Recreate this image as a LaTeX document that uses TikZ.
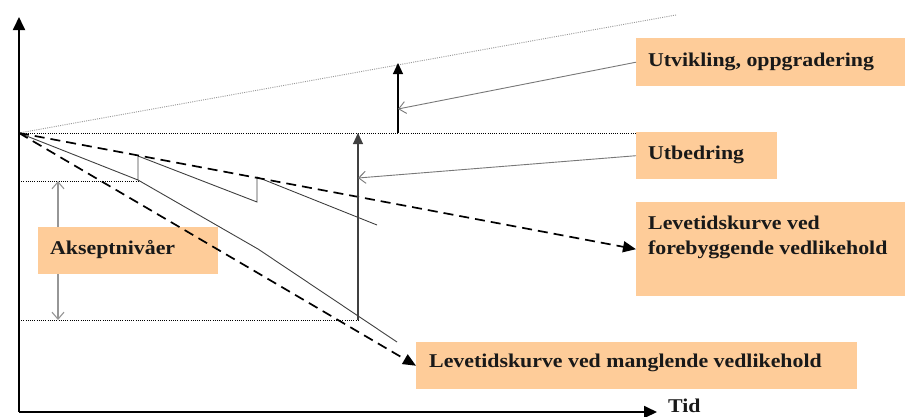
\documentclass[tikz,border=0pt]{standalone}
\usepackage{fontspec}
\setmainfont{Liberation Serif}[FakeStretch=1.12]
\usetikzlibrary{arrows.meta}
\definecolor{peach}{RGB}{254,204,153}
\definecolor{curvegray}{RGB}{64,64,64}
\definecolor{leadgray}{RGB}{120,120,120}
\definecolor{lightgray}{RGB}{150,150,150}
\begin{document}
\begin{tikzpicture}[x=1pt,y=-1pt,
  axis/.style={line width=1.8pt,-{Triangle[length=13pt,width=12pt]}},
  guide/.style={black,line width=0.7pt,dash pattern=on 0.8pt off 1.4pt},
  trend/.style={lightgray,line width=0.9pt,dash pattern=on 1pt off 1.2pt},
  lifeline/.style={black,line width=1.7pt,dash pattern=on 10pt off 6pt,-{Triangle[length=13pt,width=11pt]}},
  wear/.style={curvegray,line width=0.9pt},
  lift/.style={line width=1.1pt,-{Triangle[length=11pt,width=10pt]}},
  leader/.style={leadgray,line width=0.9pt,-{Straight Barb[length=7pt,width=12pt]}},
  accrange/.style={lightgray,line width=1.1pt,{Straight Barb[length=7pt,width=12pt]}-{Straight Barb[length=7pt,width=12pt]}},
  infobox/.style={fill=peach,draw=none,inner sep=0pt,anchor=north west},
  boxtext/.style={font=\bfseries\fontsize{19.5}{25}\selectfont,inner sep=0pt,align=left,text=black!90}
]
\useasboundingbox (0,0) rectangle (905,416);

% key points of the chart
\coordinate (O) at (19,133);
\coordinate (corner) at (19,412);
\coordinate (ytop) at (19,17);
\coordinate (xend) at (657,412);
\coordinate (trendEnd) at (676,15);
\coordinate (topLevel) at (636,133);
\coordinate (accHi) at (138,181);
\coordinate (accHiL) at (19,181);
\coordinate (accLo) at (358,320);
\coordinate (accLoL) at (19,320);
\coordinate (upA) at (398,133);
\coordinate (upAtip) at (398,63);
\coordinate (upAhit) at (398,109);
\coordinate (upBtip) at (358,133);
\coordinate (upBhit) at (358,178);
\coordinate (s1) at (138,180);
\coordinate (s1t) at (138,156);
\coordinate (s2) at (257,202);
\coordinate (s2t) at (257,177);
\coordinate (s3) at (377,225);
\coordinate (d1) at (258,249);
\coordinate (d2) at (397,342);
\coordinate (rTop) at (58,181);
\coordinate (rBot) at (58,320);

% reference levels
\draw[trend] (O) -- (trendEnd);
\draw[guide] (O) -- (topLevel);
\draw[guide] (accHiL) -- (accHi);
\draw[guide] (accLoL) -- (accLo);

% acceptance range
\draw[accrange] (rTop) -- (rBot);

% actual condition with and without repairs
\draw[wear] (O) -- (s1) -- (s1t) -- (s2) -- (s2t) -- (s3);
\draw[wear] (s1) -- (d1) -- (d2);

% boxes
\node[infobox,minimum width=269pt,minimum height=48pt] (utv) at (636,38) {};
\node[infobox,minimum width=141pt,minimum height=47pt] (utb) at (636,132) {};
\node[infobox,minimum width=269pt,minimum height=94pt] (fore) at (636,202) {};
\node[infobox,minimum width=180pt,minimum height=47pt] (aks) at (38,227) {};
\node[infobox,minimum width=441pt,minimum height=47pt] (mang) at (416,342) {};

% life-time curves
\draw[lifeline] (O) -- (fore.west);
\draw[lifeline] (O) -- (mang.west);

% upgrades and repair
\draw[lift,black] (upA) -- (upAtip);
\draw[lift,curvegray] (accLo) -- (upBtip);

% leaders from the labels
\draw[leader] (utv.west) -- (upAhit);
\draw[leader] (utb.west) -- (upBhit);

% axes
\draw[axis] (corner) -- (ytop);
\draw[axis] (corner) -- (xend);

% texts
\node[boxtext,anchor=base west] (utvT) at (648,66) {Utvikling, oppgradering};
\node[boxtext,anchor=base west] (utbT) at (648,159) {Utbedring};
\node[boxtext,anchor=north west] (foreT) at (648,215.5) {Levetidskurve ved\\forebyggende vedlikehold};
\node[boxtext,anchor=base west] (aksT) at (50,254) {Akseptnivåer};
\node[boxtext,anchor=base west] (mangT) at (429,367) {Levetidskurve ved manglende vedlikehold};
\node[boxtext,anchor=base west] (tid) at (668,412) {Tid};
\end{tikzpicture}
\end{document}
